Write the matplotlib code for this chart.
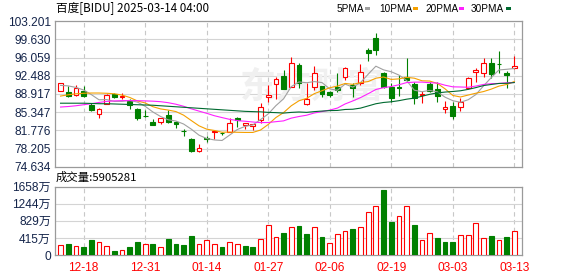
import matplotlib
matplotlib.use('Agg')
import matplotlib.pyplot as plt
import numpy as np
import pandas as pd
from matplotlib.patches import Rectangle

dates = ['12-13', '12-16', '12-17', '12-18', '12-19', '12-20', '12-23', '12-24', '12-26', '12-27',
         '12-30', '12-31', '01-02', '01-03', '01-06', '01-07', '01-08', '01-10', '01-13', '01-14',
         '01-15', '01-16', '01-17', '01-21', '01-22', '01-23', '01-24', '01-27', '01-28', '01-29',
         '01-30', '01-31', '02-03', '02-04', '02-05', '02-06', '02-07', '02-10', '02-11', '02-12',
         '02-13', '02-14', '02-18', '02-19', '02-20', '02-21', '02-24', '02-25', '02-26', '02-27',
         '02-28', '03-03', '03-04', '03-05', '03-06', '03-07', '03-10', '03-11', '03-12', '03-13']

opens = [89.50, 89.36, 88.71, 89.50, 86.75, 84.92, 86.89, 88.97, 88.26, 87.59,
         85.96, 84.66, 83.47, 83.47, 84.79, 83.35, 81.71, 80.08, 77.72, 80.18,
         81.35, 81.20, 81.51, 84.14, 82.82, 82.70, 83.88, 88.26, 90.81, 92.50,
         90.34, 94.60, 86.95, 90.34, 90.48, 89.36, 90.34, 92.31, 90.67, 91.01,
         97.55, 99.84, 92.97, 90.24, 90.34, 92.30, 90.87, 88.70, 90.87, 89.89,
         85.90, 86.55, 86.42, 90.03, 93.29, 92.97, 94.94, 94.85, 93.09, 94.07]
highs = [91.10, 90.48, 90.67, 90.48, 87.08, 86.10, 88.91, 89.16, 89.05, 87.87,
         86.10, 85.77, 84.00, 84.26, 85.77, 83.67, 82.04, 80.33, 79.03, 80.72,
         81.84, 81.50, 84.14, 84.30, 83.20, 83.02, 87.08, 90.67, 92.30, 93.62,
         96.23, 94.94, 91.01, 94.46, 90.50, 89.50, 92.97, 94.27, 91.01, 94.80,
         97.88, 100.82, 93.17, 91.07, 92.64, 96.03, 91.32, 89.50, 91.32, 91.32,
         87.54, 87.28, 88.06, 92.30, 94.07, 96.03, 95.92, 97.35, 93.42, 96.37]
lows = [89.40, 88.38, 88.52, 88.32, 85.57, 84.26, 86.85, 88.06, 87.87, 85.96,
        83.80, 84.33, 82.75, 82.96, 83.16, 82.18, 80.72, 77.58, 77.46, 79.58,
        80.08, 80.86, 81.45, 82.49, 82.04, 81.84, 83.16, 87.30, 87.83, 89.80,
        90.30, 90.14, 86.75, 89.69, 88.38, 88.26, 89.36, 91.66, 88.38, 90.67,
        95.39, 96.56, 90.14, 87.34, 88.57, 91.32, 86.95, 87.20, 89.36, 87.40,
        85.24, 84.00, 85.63, 89.89, 91.32, 92.30, 91.99, 92.97, 90.14, 93.82]
closes = [91.01, 88.52, 90.14, 88.52, 85.77, 85.90, 88.71, 88.38, 88.57, 86.75,
          84.14, 84.64, 82.82, 84.14, 83.47, 82.96, 81.69, 77.78, 78.25, 80.16,
          81.55, 81.18, 83.16, 83.71, 83.16, 82.95, 86.42, 88.71, 91.85, 89.89,
          94.94, 90.99, 87.93, 92.97, 88.91, 88.71, 89.69, 93.95, 90.03, 93.29,
          97.02, 97.55, 90.34, 88.18, 90.03, 91.66, 88.06, 88.85, 89.50, 88.57,
          86.42, 84.65, 87.28, 91.99, 93.62, 94.94, 92.84, 94.75, 92.64, 94.40]

# volume in 万 (10k shares)
vol_wan = [244, 268, 220, 203, 366, 317, 220, 98, 114, 203,
           317, 268, 268, 195, 390, 268, 244, 463, 268, 366,
           268, 203, 317, 268, 220, 203, 390, 732, 439, 537,
           683, 707, 512, 683, 439, 293, 512, 585, 642, 683,
           1049, 1195, 1569, 805, 951, 1195, 732, 366, 537, 415,
           317, 317, 488, 488, 780, 415, 463, 366, 439, 590.5281]
# 1 = up (red), 0 = down (green) for volume bars
vol_up = [1, 0, 1, 0, 0, 1, 1, 0, 1, 0,
          0, 1, 0, 1, 0, 0, 0, 0, 1, 1,
          1, 0, 1, 1, 0, 0, 1, 1, 1, 0,
          1, 0, 0, 1, 0, 1, 1, 1, 0, 1,
          1, 1, 0, 0, 1, 1, 0, 1, 1, 0,
          0, 0, 1, 1, 1, 1, 0, 1, 0, 1]

# moving-average values before a full window is available
ma5_head = [90.6, 90.5, 90.2, 89.7]
ma10_head = [88.5, 88.75, 88.95, 89.05, 89.1, 89.1, 89.05, 88.95, 88.7]
ma20_head = [86.35, 86.45, 86.6, 86.8, 87.0, 87.25, 87.45, 87.55, 87.6, 87.6,
             87.6, 87.55, 87.5, 87.4, 87.2, 86.9, 86.5, 86.0, 85.55]
ma30_head = [87.1, 87.1, 87.1, 87.1, 87.05, 87.0, 87.0, 86.95, 86.9, 86.85,
             86.8, 86.75, 86.7, 86.6, 86.5, 86.4, 86.3, 86.2, 86.1, 86.0,
             85.9, 85.8, 85.7, 85.6, 85.5, 85.45, 85.4, 85.3, 85.25]

price_ticks = [74.634, 78.205, 81.776, 85.347, 88.917, 92.488, 96.059, 99.630, 103.201]
vol_ticks = [0, 415, 829, 1244, 1658]
vol_tick_labels = ['0', '415万', '829万', '1244万', '1658万']
tick_idx = [3, 11, 19, 27, 35, 43, 51, 59]

title = '百度[BIDU] 2025-03-14 04:00'
vol_title = '成交量:5905281'
ma_names = ['5PMA', '10PMA', '20PMA', '30PMA']
ma_colors = ['#a0a0a0', '#f5a000', '#ff20ff', '#006a30']

RED = '#ff0000'
GREEN = '#008000'
CJK = ['Noto Sans CJK SC', 'DejaVu Sans']
LAT = ['Liberation Sans', 'Noto Sans CJK SC', 'DejaVu Sans']
LABEL_C = '#14244a'

W, H = 578, 276
fig = plt.figure(figsize=(W / 100, H / 100), dpi=100)
fig.patch.set_facecolor('white')

def fx(px):
    return px / W

def fy(py):
    return 1 - py / H

L, R = 55, 522
ax = fig.add_axes([fx(L), fy(166.7), fx(R - L), (166.7 - 21.2) / H])
axv = fig.add_axes([fx(L), fy(255), fx(R - L), (255 - 186.7) / H])

n = len(closes)
x = np.arange(n)
s = pd.Series(closes)
mas = []
for win, head in zip([5, 10, 20, 30], [ma5_head, ma10_head, ma20_head, ma30_head]):
    m = s.rolling(win).mean().to_numpy()
    m[:win - 1] = head
    mas.append(m)

for a in (ax, axv):
    a.set_xlim(-0.72, 60.0)
    for sp in a.spines.values():
        sp.set_color('#9a9a9a')
        sp.set_linewidth(0.9)
    a.tick_params(length=0, pad=3)
    for t in tick_idx:
        a.axvline(t, color='#c8c8c8', lw=0.8, ls=(0, (4, 3)), zorder=0)

# price panel
ax.set_ylim(price_ticks[0], price_ticks[-1])
ax.set_yticks(price_ticks)
ax.set_yticklabels(['%.3f' % v for v in price_ticks], family=LAT, fontsize=8.6, color=LABEL_C)
for v in price_ticks[1:-1]:
    ax.axhline(v, color='#d4d4d4', lw=0.8, zorder=0)
ax.set_xticks([])

ax.text(0.55, 0.55, '东方财富', transform=ax.transAxes, ha='center', va='center',
        fontsize=26, color='#f0f0f0', family=CJK, fontweight='bold', style='italic', zorder=0)

bw = 0.62
for i in range(n):
    o, h, l, c = opens[i], highs[i], lows[i], closes[i]
    if c >= o:
        ax.vlines(x[i], c, h, color=RED, lw=0.8, zorder=3)
        ax.vlines(x[i], l, o, color=RED, lw=0.8, zorder=3)
        ax.add_patch(Rectangle((x[i] - bw / 2, o), bw, max(c - o, 0.02), facecolor='white',
                               edgecolor=RED, lw=0.8, zorder=4))
    else:
        ax.vlines(x[i], l, h, color=GREEN, lw=0.8, zorder=3)
        ax.add_patch(Rectangle((x[i] - bw / 2, c), bw, max(o - c, 0.02), facecolor=GREEN,
                               edgecolor=GREEN, lw=0.8, zorder=4))

for m, col in zip(mas, ma_colors):
    ax.plot(x, m, color=col, lw=0.8, zorder=5)

# volume panel
axv.set_ylim(0, vol_ticks[-1])
axv.set_yticks(vol_ticks)
axv.set_yticklabels(vol_tick_labels, family=LAT, fontsize=8.6, color=LABEL_C)
for v in vol_ticks[1:-1]:
    axv.axhline(v, color='#d4d4d4', lw=0.8, zorder=0)
for i in range(n):
    if vol_up[i]:
        axv.add_patch(Rectangle((x[i] - bw / 2, 0), bw, vol_wan[i], facecolor='white',
                                edgecolor=RED, lw=0.8, zorder=3))
    else:
        axv.add_patch(Rectangle((x[i] - bw / 2, 0), bw, vol_wan[i], facecolor=GREEN,
                                edgecolor=GREEN, lw=0.8, zorder=3))
axv.set_xticks(tick_idx)
axv.set_xticklabels([dates[i] for i in tick_idx], family=LAT, fontsize=8.6, color=RED)
axv.tick_params(axis='x', pad=5)

# texts
fig.text(fx(56), fy(8.5), title, family=CJK, fontsize=8.4, va='center', ha='left', color='black')
fig.text(fx(56), fy(177.5), vol_title, family=CJK, fontsize=8.2, va='center', ha='left', color='black')

leg_x = [337, 379, 425, 471]
sq_x = [365, 413, 459, 506]
for name, col, lx, sx in zip(ma_names, ma_colors, leg_x, sq_x):
    fig.text(fx(lx), fy(8.5), name, family=LAT, fontsize=7.2, va='center', ha='left', color='black')
    fig.patches.append(Rectangle((fx(sx), fy(10)), fx(5), 3 / H, facecolor=col, edgecolor='none',
                                 transform=fig.transFigure, figure=fig))

fig.savefig('out.png', dpi=100, facecolor='white')
